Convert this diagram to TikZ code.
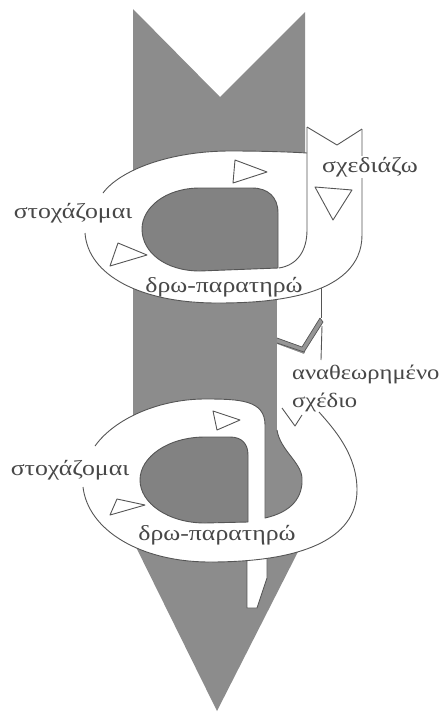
\documentclass[tikz,border=0pt]{standalone}
\usepackage{fontspec}
\setmainfont[FakeStretch=1.2]{Liberation Serif}
\definecolor{arrowgray}{RGB}{140,140,140}
\definecolor{holegray}{RGB}{130,130,130}
\definecolor{bevelgray}{RGB}{150,150,150}
\definecolor{ink}{RGB}{85,85,85}
\begin{document}
\begin{tikzpicture}[x=1pt,y=-1pt,line join=round,
  ol/.style={draw=ink,line width=0.9pt},
  lbl/.style={font=\fontsize{21.5}{24}\selectfont,text=black!72,inner sep=1pt},
  tri/.style={draw=ink,line width=0.9pt,fill=white}]
\useasboundingbox (0,0) rectangle (445,713);
\fill[white] (0,0) rectangle (445,713);
% main grey arrow
\fill[arrowgray] (133,9) -- (220,97) -- (305,12) -- (305,538) -- (217,711) -- (133,541) -- cycle;

% upper exit strip
\fill[white] (277,280) -- (321,280) -- (321,318) -- (302,347) -- (277,338) -- cycle;
\draw[ol] (321,285) -- (321,318);

% upper ring
\fill[white] (103,193) .. controls (120,170) and (170,151) .. (230,151)
  .. controls (265,151) and (290,152) .. (307,153) -- (307,127) -- (337,145) -- (362,129)
  -- (362,235) .. controls (362,265) and (340,285) .. (300,295)
  .. controls (275,301) and (250,303) .. (217,303)
  .. controls (140,303) and (88,275) .. (85,233) -- cycle;
\fill[holegray] (278,268) -- (278,213) .. controls (278,197) and (268,188) .. (252,188)
  -- (200,188) .. controls (165,188) and (142,208) .. (142,229)
  .. controls (142,252) and (165,271) .. (200,271) -- cycle;
\draw[ol] (278,268) -- (278,213) .. controls (278,197) and (268,188) .. (252,188)
  -- (200,188) .. controls (165,188) and (142,208) .. (142,229)
  .. controls (142,252) and (165,271) .. (200,271) -- cycle;
\draw[ol] (103,193) .. controls (120,170) and (170,151) .. (230,151)
  .. controls (265,151) and (290,152) .. (307,153);
\draw[ol] (307,127) -- (307,230) .. controls (307,250) and (298,265) .. (279,268);
\draw[ol] (307,127) -- (337,145) -- (362,129);
\draw[ol] (362,129) -- (362,235) .. controls (362,265) and (340,285) .. (300,295)
  .. controls (275,301) and (250,303) .. (217,303)
  .. controls (140,303) and (88,275) .. (85,233);

% lower exit strip
\fill[white] (247,540) -- (267,540) -- (267,578) -- (257,608) -- (247,608) -- cycle;
\draw[ol] (247,545) -- (247,608) -- (257,608) -- (267,578) -- (267,545);

% lower ring
\fill[white] (95,446) .. controls (115,418) and (160,399) .. (205,399)
  .. controls (240,399) and (265,400) .. (265,425) -- (265,518)
  .. controls (292,512) and (303,497) .. (302,478)
  .. controls (301,462) and (280,450) .. (277,430) -- (277,344) -- (304,354) -- (322,324)
  -- (320,412) .. controls (335,430) and (357,455) .. (357,490)
  .. controls (357,540) and (300,562) .. (210,562)
  .. controls (140,562) and (88,530) .. (83,487) -- cycle;
\fill[holegray] (248,522) -- (248,455) .. controls (248,444) and (242,437) .. (230,437)
  -- (205,437) .. controls (168,437) and (140,457) .. (140,480)
  .. controls (140,503) and (168,523) .. (205,523) -- cycle;
\draw[ol] (248,522) -- (248,455) .. controls (248,444) and (242,437) .. (230,437)
  -- (205,437) .. controls (168,437) and (140,457) .. (140,480)
  .. controls (140,503) and (168,523) .. (205,523) -- cycle;
\draw[ol] (95,446) .. controls (115,418) and (160,399) .. (205,399)
  .. controls (240,399) and (265,400) .. (265,425) -- (265,518)
  .. controls (292,512) and (303,497) .. (302,478)
  .. controls (301,462) and (280,450) .. (277,430);
\draw[ol] (322,326) -- (321,360);
\draw[ol] (319,412) .. controls (335,430) and (357,455) .. (357,490)
  .. controls (357,540) and (300,562) .. (210,562)
  .. controls (140,562) and (88,530) .. (83,487);

% bevel (fold of the ribbon)
\fill[bevelgray] (277,338) -- (302,347) -- (320,318) -- (323,322) -- (304,352) -- (277,343) -- cycle;
\draw[ol,line width=0.7pt] (277,338) -- (302,347) -- (320,318);
\draw[ol,line width=0.7pt] (277,343) -- (304,352) -- (323,322) -- (320,318);

% direction triangles
\draw[tri] (235,160) -- (267,172) -- (233,183) -- cycle;
\draw[tri] (118,243) -- (147,255) -- (110,266) -- cycle;
\draw[tri] (315,187) -- (352,190) -- (333,220) -- cycle;
\draw[tri] (213,411) -- (240,420) -- (217,430) -- cycle;
\draw[tri] (117,499) -- (145,505) -- (110,515) -- cycle;
\draw[ol] (282,408) -- (295,426) -- (302,415);

% labels
\node[lbl,fill=white] (sxediazo) at (370,167) {σχεδιάζω};
\node[lbl] (stox1) at (73,213) {στοχάζομαι};
\node[lbl] (dro1) at (224,287) {δρω-παρατηρώ};
\node[lbl,anchor=west,font=\fontsize{20.5}{24}\selectfont] (anath) at (291,374) {αναθεωρημένο};
\node[lbl,anchor=west,font=\fontsize{20.5}{24}\selectfont] (sxedio) at (291,402) {σχέδιο};
\node[lbl] (stox2) at (70,470) {στοχάζομαι};
\node[lbl] (dro2) at (217,535) {δρω-παρατηρώ};
\end{tikzpicture}
\end{document}
